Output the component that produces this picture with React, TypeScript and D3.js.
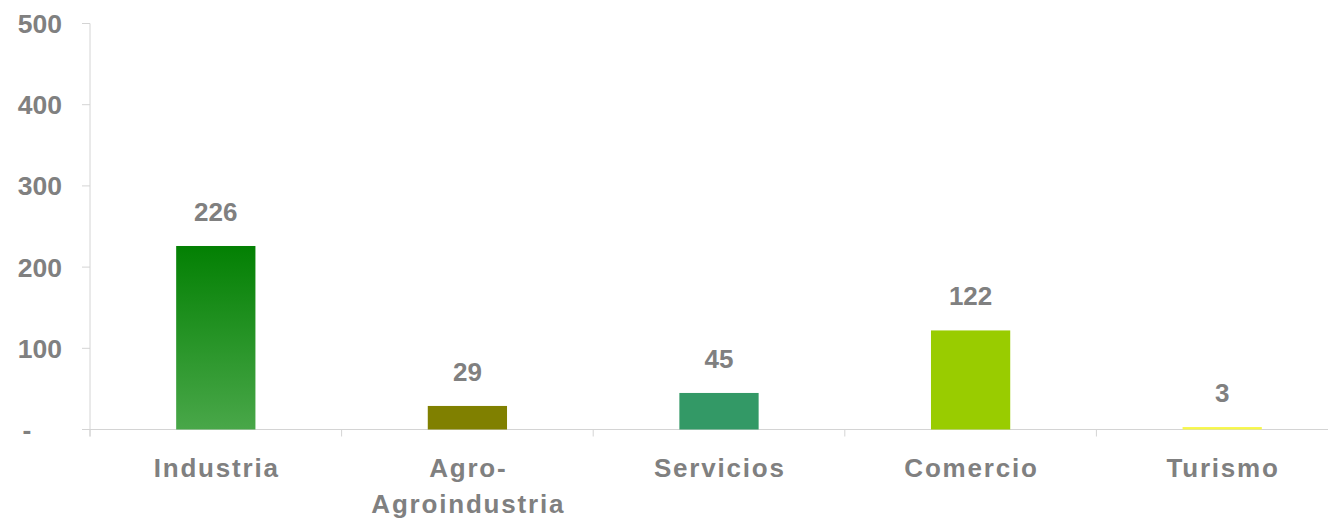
import React from "react";
import * as d3 from "d3";

const categories = ["Industria", "Agro-\nAgroindustria", "Servicios", "Comercio", "Turismo"];
const values = [226, 29, 45, 122, 3];
const barColors = ["url(#gradIndustria)", "#808000", "#339966", "#99cc00", "#f7f74a"];
const yTicks = [0, 100, 200, 300, 400, 500];
const yTickLabels = ["-", "100", "200", "300", "400", "500"];

const W = 1328;
const H = 520;
const FONT = "'Liberation Sans', Arial, Helvetica, sans-serif";
const GREY = "#808080";
const AXIS = "#d4d4d4";

export default function App() {
  const x = d3.scaleBand<string>().domain(categories).range([90, 1348]).padding(0);
  const y = d3.scaleLinear().domain([0, 500]).range([429.5, 23.5]);
  const barW = x.bandwidth() * 0.315;
  const boundaries = categories.map((c) => x(c) as number);

  return (
    <svg
      width={W}
      height={H}
      style={{ position: "absolute", left: 0, top: 0, background: "#fff" }}
      fontFamily={FONT}
    >
      <defs>
        <linearGradient id="gradIndustria" x1="0" y1="0" x2="0" y2="1">
          <stop offset="0%" stopColor="#038003" />
          <stop offset="100%" stopColor="#49a749" />
        </linearGradient>
      </defs>

      {/* y axis */}
      <line x1={90} x2={90} y1={y(500)} y2={436.5} stroke={AXIS} strokeWidth={1} />
      {yTicks.map((t) => (
        <line key={"yt" + t} x1={82} x2={90} y1={y(t)} y2={y(t)} stroke={AXIS} strokeWidth={1} />
      ))}
      {yTicks.map((t, i) => {
        const lab = yTickLabels[i];
        const isDash = lab === "-";
        return (
          <text
            key={"yl" + t}
            x={isDash ? 27 : 62}
            y={y(t)}
            dy="0.36em"
            textAnchor={isDash ? "middle" : "end"}
            fontSize={26.5}
            fontWeight="bold"
            fill={GREY}
          >
            {lab}
          </text>
        );
      })}

      {/* x axis */}
      <line x1={82} x2={W} y1={y(0)} y2={y(0)} stroke={AXIS} strokeWidth={1} />
      {boundaries.map((b, i) => (
        <line key={"xt" + i} x1={b} x2={b} y1={y(0)} y2={436.5} stroke={AXIS} strokeWidth={1} />
      ))}

      {/* bars */}
      {categories.map((c, i) => {
        const cx = (x(c) as number) + x.bandwidth() / 2;
        return (
          <rect
            key={"b" + i}
            x={cx - barW / 2}
            y={y(values[i])}
            width={barW}
            height={y(0) - y(values[i])}
            fill={barColors[i]}
          />
        );
      })}

      {/* value labels */}
      {categories.map((c, i) => {
        const cx = (x(c) as number) + x.bandwidth() / 2;
        return (
          <text
            key={"v" + i}
            x={cx}
            y={y(values[i]) - 25}
            textAnchor="middle"
            fontSize={26}
            fontWeight="bold"
            fill={GREY}
          >
            {values[i]}
          </text>
        );
      })}

      {/* category labels */}
      {categories.map((c, i) => {
        const cx = (x(c) as number) + x.bandwidth() / 2;
        const lines = c.split("\n");
        return (
          <text
            key={"c" + i}
            textAnchor="middle"
            fontSize={26}
            fontWeight="bold"
            fill={GREY}
            letterSpacing={1.8}
          >
            {lines.map((ln, j) => (
              <tspan key={j} x={cx + 0.9} y={477 + j * 36}>
                {ln}
              </tspan>
            ))}
          </text>
        );
      })}
    </svg>
  );
}
